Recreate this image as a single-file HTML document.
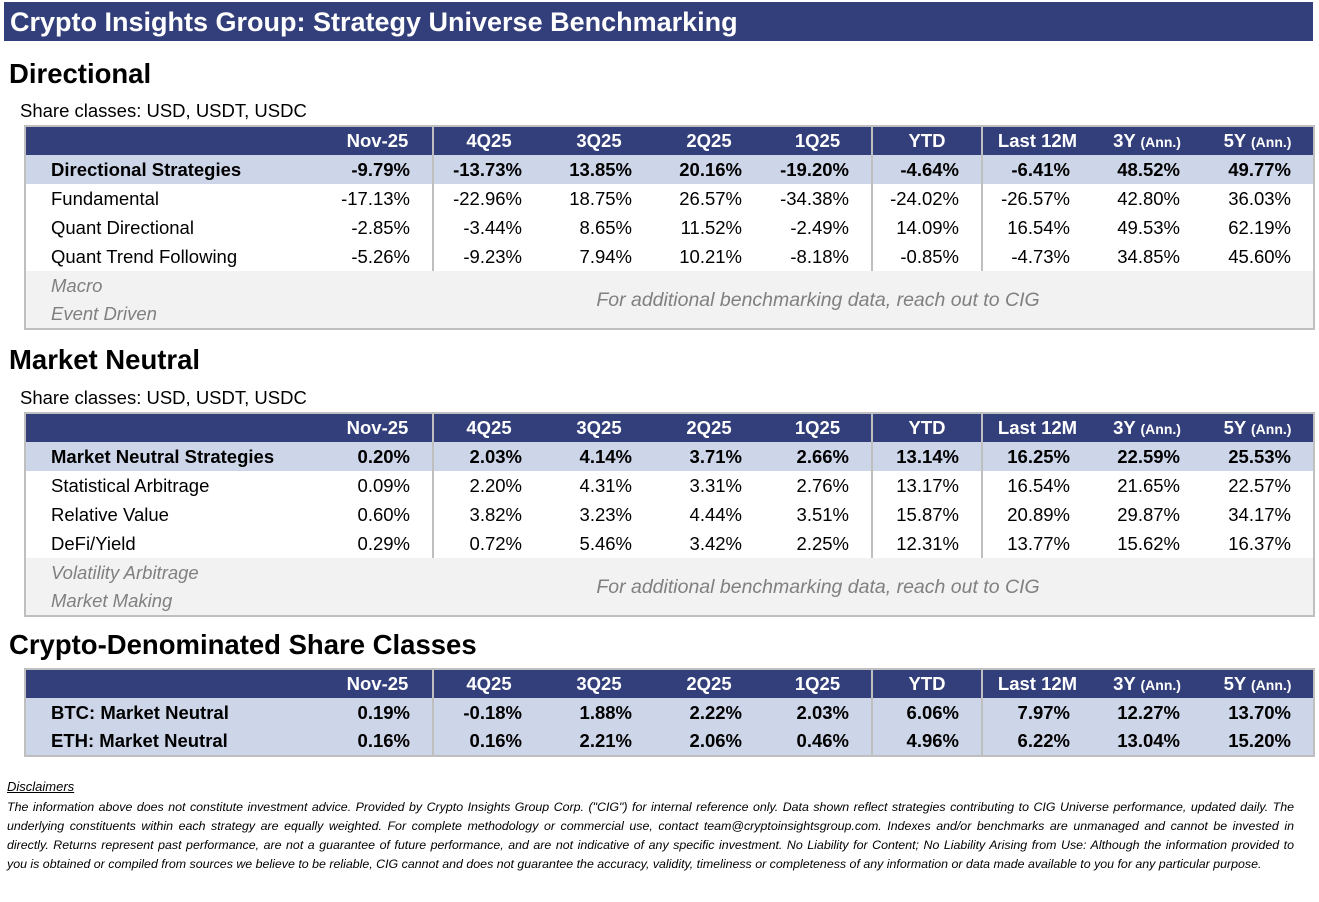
<!DOCTYPE html>
<html><head><meta charset="utf-8">
<style>
body{margin:0;width:1319px;height:902px;background:#fff;font-family:"Liberation Sans",sans-serif;position:relative;overflow:hidden}
.title{position:absolute;left:4px;top:2px;width:1309px;height:39px;background:#333f7a;color:#fff;font-weight:bold;font-size:27px;line-height:41px;box-sizing:border-box;padding-left:6px}
.sec{position:absolute;left:9px;font-weight:bold;font-size:27.5px;color:#000}
.share{position:absolute;left:20px;font-size:18.5px;color:#000}
table{position:absolute;left:24px;width:1289px;border-collapse:collapse;table-layout:fixed;border:2px solid #bfbfbf;font-size:18.5px}
td{height:29px;padding:0;white-space:nowrap;text-align:right;padding-right:22px;box-sizing:border-box;line-height:20px}
tr.h td{background:#333f7a;color:#fff;font-weight:bold;text-align:center;padding-right:0;height:29px}
tr.h td small{font-size:14px}
tr.s td{background:#cdd5e8;font-weight:bold}
td.l{text-align:left;padding-left:25px;padding-right:0}
td.sep{border-left:2px solid #bfbfbf}
tr.g td{background:#f2f2f2;color:#808080;font-style:italic}
td.note{text-align:center;padding:0;font-size:19.5px}
.disc{position:absolute;left:7px;font-size:12.4px;font-style:italic;color:#000;width:1287px;white-space:nowrap}
.j{text-align:justify;text-align-last:justify}
</style></head><body>
<div class="title">Crypto Insights Group: Strategy Universe Benchmarking</div>

<div class="sec" style="top:58px">Directional</div>
<div class="share" style="top:100px">Share classes: USD, USDT, USDC</div>
<table style="top:125px">
<colgroup><col style="width:298px"><col style="width:110px"><col style="width:111px"><col style="width:110px"><col style="width:110px"><col style="width:108px"><col style="width:110px"><col style="width:110px"><col style="width:110px"><col style="width:112px"></colgroup>
<tr class="h"><td></td><td>Nov-25</td><td class="sep">4Q25</td><td>3Q25</td><td>2Q25</td><td>1Q25</td><td class="sep">YTD</td><td class="sep">Last 12M</td><td>3Y <small>(Ann.)</small></td><td>5Y <small>(Ann.)</small></td></tr>
<tr class="s"><td class="l">Directional Strategies</td><td>-9.79%</td><td class="sep">-13.73%</td><td>13.85%</td><td>20.16%</td><td>-19.20%</td><td class="sep">-4.64%</td><td class="sep">-6.41%</td><td>48.52%</td><td>49.77%</td></tr>
<tr><td class="l">Fundamental</td><td>-17.13%</td><td class="sep">-22.96%</td><td>18.75%</td><td>26.57%</td><td>-34.38%</td><td class="sep">-24.02%</td><td class="sep">-26.57%</td><td>42.80%</td><td>36.03%</td></tr>
<tr><td class="l">Quant Directional</td><td>-2.85%</td><td class="sep">-3.44%</td><td>8.65%</td><td>11.52%</td><td>-2.49%</td><td class="sep">14.09%</td><td class="sep">16.54%</td><td>49.53%</td><td>62.19%</td></tr>
<tr><td class="l">Quant Trend Following</td><td>-5.26%</td><td class="sep">-9.23%</td><td>7.94%</td><td>10.21%</td><td>-8.18%</td><td class="sep">-0.85%</td><td class="sep">-4.73%</td><td>34.85%</td><td>45.60%</td></tr>
<tr class="g"><td class="l">Macro</td><td class="note" colspan="9" rowspan="2">For additional benchmarking data, reach out to CIG</td></tr>
<tr class="g"><td class="l">Event Driven</td></tr>
</table>

<div class="sec" style="top:344px">Market Neutral</div>
<div class="share" style="top:387px">Share classes: USD, USDT, USDC</div>
<table style="top:412px">
<colgroup><col style="width:298px"><col style="width:110px"><col style="width:111px"><col style="width:110px"><col style="width:110px"><col style="width:108px"><col style="width:110px"><col style="width:110px"><col style="width:110px"><col style="width:112px"></colgroup>
<tr class="h"><td></td><td>Nov-25</td><td class="sep">4Q25</td><td>3Q25</td><td>2Q25</td><td>1Q25</td><td class="sep">YTD</td><td class="sep">Last 12M</td><td>3Y <small>(Ann.)</small></td><td>5Y <small>(Ann.)</small></td></tr>
<tr class="s"><td class="l">Market Neutral Strategies</td><td>0.20%</td><td class="sep">2.03%</td><td>4.14%</td><td>3.71%</td><td>2.66%</td><td class="sep">13.14%</td><td class="sep">16.25%</td><td>22.59%</td><td>25.53%</td></tr>
<tr><td class="l">Statistical Arbitrage</td><td>0.09%</td><td class="sep">2.20%</td><td>4.31%</td><td>3.31%</td><td>2.76%</td><td class="sep">13.17%</td><td class="sep">16.54%</td><td>21.65%</td><td>22.57%</td></tr>
<tr><td class="l">Relative Value</td><td>0.60%</td><td class="sep">3.82%</td><td>3.23%</td><td>4.44%</td><td>3.51%</td><td class="sep">15.87%</td><td class="sep">20.89%</td><td>29.87%</td><td>34.17%</td></tr>
<tr><td class="l">DeFi/Yield</td><td>0.29%</td><td class="sep">0.72%</td><td>5.46%</td><td>3.42%</td><td>2.25%</td><td class="sep">12.31%</td><td class="sep">13.77%</td><td>15.62%</td><td>16.37%</td></tr>
<tr class="g"><td class="l">Volatility Arbitrage</td><td class="note" colspan="9" rowspan="2">For additional benchmarking data, reach out to CIG</td></tr>
<tr class="g"><td class="l">Market Making</td></tr>
</table>

<div class="sec" style="top:629px">Crypto-Denominated Share Classes</div>
<table style="top:668px">
<colgroup><col style="width:298px"><col style="width:110px"><col style="width:111px"><col style="width:110px"><col style="width:110px"><col style="width:108px"><col style="width:110px"><col style="width:110px"><col style="width:110px"><col style="width:112px"></colgroup>
<tr class="h"><td></td><td>Nov-25</td><td class="sep">4Q25</td><td>3Q25</td><td>2Q25</td><td>1Q25</td><td class="sep">YTD</td><td class="sep">Last 12M</td><td>3Y <small>(Ann.)</small></td><td>5Y <small>(Ann.)</small></td></tr>
<tr class="s"><td class="l">BTC: Market Neutral</td><td>0.19%</td><td class="sep">-0.18%</td><td>1.88%</td><td>2.22%</td><td>2.03%</td><td class="sep">6.06%</td><td class="sep">7.97%</td><td>12.27%</td><td>13.70%</td></tr>
<tr class="s"><td class="l">ETH: Market Neutral</td><td>0.16%</td><td class="sep">0.16%</td><td>2.21%</td><td>2.06%</td><td>0.46%</td><td class="sep">4.96%</td><td class="sep">6.22%</td><td>13.04%</td><td>15.20%</td></tr>
</table>

<div class="disc" style="top:779px;font-size:13px;text-decoration:underline;width:auto">Disclaimers</div>
<div class="disc j" style="top:800px">The information above does not constitute investment advice. Provided by Crypto Insights Group Corp. ("CIG") for internal reference only. Data shown reflect strategies contributing to CIG Universe performance, updated daily. The</div>
<div class="disc j" style="top:819px">underlying constituents within each strategy are equally weighted. For complete methodology or commercial use, contact team@cryptoinsightsgroup.com. Indexes and/or benchmarks are unmanaged and cannot be invested in</div>
<div class="disc j" style="top:838px">directly. Returns represent past performance, are not a guarantee of future performance, and are not indicative of any specific investment. No Liability for Content; No Liability Arising from Use: Although the information provided to</div>
<div class="disc" style="top:857px;width:auto">you is obtained or compiled from sources we believe to be reliable, CIG cannot and does not guarantee the accuracy, validity, timeliness or completeness of any information or data made available to you for any particular purpose.</div>
</body></html>
